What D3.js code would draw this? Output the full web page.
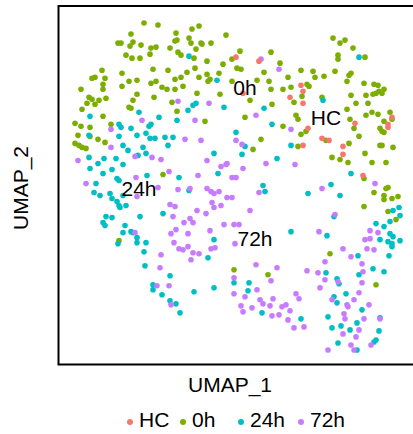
<!DOCTYPE html>
<html>
<head>
<meta charset="utf-8">
<script src="https://cdn.jsdelivr.net/npm/d3@7"></script>
<style>
  html, body { margin: 0; padding: 0; background: #fff; }
  text { font-family: "Liberation Sans", Arial, sans-serif; }
</style>
</head>
<body>
<div id="chart"></div>
<script>
// groups and colours (ggplot default hues)
const groups = ['HC', '0h', '24h', '72h'];
const colors = ['#F8766D', '#7CAE00', '#00BFC4', '#C77CFF'];

// UMAP embedding (arbitrary units)
const hcPts = [
  [177,306],[200,302],[184,270],[242,278],[244,272],[231,266],[244,260],[249,235],
  [333,246],[329,239],[329,236],[296,240],[244,218],[263,225],[270,223],[284,217],
  [284,209],[304,188]
];

const h0Pts = [
  [85,340],[99,338],[72,329],[59,320],[62,320],[74,321],[71,317],[82,318],[92,315],
  [97,316],[117,330],[116,322],[118,323],[111,315],[133,334],[140,337],[130,325],
  [132,320],[142,320],[143,319],[152,320],[137,314],[167,328],[67,308],[73,305],
  [81,305],[91,309],[119,311],[122,308],[135,305],[148,302],[164,299],[173,304],
  [43,293],[63,290],[94,294],[109,293],[128,291],[136,295],[148,289],[160,290],
  [33,285],[36,286],[46,285],[44,279],[70,282],[78,283],[63,277],[92,280],[97,282],
  [103,276],[108,274],[116,284],[122,286],[116,274],[124,277],[140,286],[149,282],
  [151,284],[173,282],[22,274],[44,274],[30,266],[33,264],[40,263],[47,265],[28,260],
  [36,259],[78,269],[74,263],[95,266],[138,270],[161,269],[23,254],[70,256],[72,255],
  [113,261],[118,252],[44,247],[146,242],[16,240],[22,237],[31,236],[52,239],
  [181,312],[212,311],[221,300],[178,295],[182,294],[205,291],[242,293],[254,292],
  [256,286],[265,287],[276,292],[274,325],[281,320],[286,323],[294,315],[279,308],
  [279,304],[306,306],[290,288],[292,290],[288,282],[198,283],[210,282],[212,274],
  [229,286],[224,274],[232,276],[248,279],[250,277],[243,267],[235,261],[263,266],
  [191,263],[213,259],[186,246],[224,237],[237,248],[239,244],[305,280],[315,279],
  [319,278],[307,268],[314,269],[317,270],[320,272],[325,274],[323,270],[292,268],
  [297,260],[309,260],[288,254],[307,248],[313,251],[319,249],[331,251],[333,244],
  [325,242],[291,244],[295,235],[321,235],
  [202,224],[194,214],[242,229],[247,232],[239,217],[267,223],[290,220],[300,227],
  [273,206],[281,204],[289,201],[306,210],[313,201],[323,232],[325,231],[321,218],
  [323,218],[334,216],[327,201],[305,185],[315,171],[327,175],[329,176],[325,168],
  [325,164],[333,165],[339,167],[305,157],[329,152],[337,144],
  [19,228],[31,227],[39,224],[46,221],[16,220],[20,218],[23,216],[27,215],[104,189],
  [60,123],[175,94],[209,89],[271,110],[317,79]
];

const h24Pts = [
  [130,307],[158,283],[80,251],[129,253],[134,258],[137,260],[165,256],[31,247],
  [100,246],[92,239],[90,237],[118,243],[60,239],[62,236],[72,235],
  [300,306],[264,263],[205,255],[213,239],
  [30,228],[60,227],[64,218],[69,213],[78,228],[87,230],[91,225],[96,225],[84,216],
  [106,226],[114,226],[109,218],[30,206],[45,205],[57,205],[79,208],[87,210],[39,200],
  [31,195],[53,194],[64,199],[44,190],[58,185],[60,183],[88,188],[120,186],[155,210],
  [159,190],[37,180],[130,173],[35,171],[41,168],[51,170],[53,165],[58,162],[60,158],
  [61,156],[64,168],[67,158],[104,150],[81,147],[47,147],[53,146],[44,141],[46,138],
  [66,138],[155,124],[64,131],[72,132],[74,131],[59,120],[78,126],[78,121],[87,121],
  [177,231],[186,217],[183,209],[232,218],[218,205],[292,190],[334,153],[340,156],
  [341,148],[331,142],[317,140],[325,137],[331,130],[334,127],[321,124],[329,122],
  [333,120],[341,123],[333,117],[272,179],[281,168],[249,170],[204,178],[206,172],
  [275,147],[232,132],[268,128],
  [85,112],[149,106],[86,98],[111,88],[94,79],[94,74],[103,69],[135,72],[155,76],
  [111,63],[117,60],[121,51],[175,81],
  [190,81],[189,73],[203,51],[242,45],[267,91],[278,85],[280,80],[287,70],[275,67],
  [278,61],[303,54],[299,108],[330,108],[314,95],[300,89],[325,92],[269,47],[273,36],
  [282,38],[291,34],[298,41],[279,21],[298,14],[320,33],[321,46],[315,22],[317,24]
];

const h72Pts = [
  [119,262],[150,260],[83,243],[136,243],[52,234],
  [202,304],[220,294],[197,248],[232,234],
  [52,216],[126,224],[142,223],[177,223],[19,203],[76,207],[93,206],[102,204],
  [110,192],[77,186],[139,188],[148,203],[162,197],[167,199],[168,200],[173,186],
  [27,180],[99,176],[119,174],[131,175],[148,175],[152,172],[155,170],[160,172],
  [78,167],[111,159],[116,157],[168,166],[173,166],[153,161],[155,156],[162,158],
  [138,153],[147,150],[131,145],[125,141],[134,141],[114,147],[117,134],[112,130],
  [129,130],[151,133],[165,139],[175,139],[76,131],[115,121],[120,115],[124,114],
  [129,117],[176,120],
  [183,219],[184,195],[177,186],[207,200],[236,199],[316,180],[263,175],[200,171],
  [191,153],[180,139],[276,149],[260,132],[284,115],[308,115],[315,114],[311,133],
  [319,131],[311,125],[306,124],
  [102,109],[134,111],[140,110],[152,115],[156,116],[132,104],[101,96],[98,78],
  [110,78],[112,59],[175,86],[175,70],
  [197,99],[212,83],[218,96],[198,74],[186,67],[182,58],[184,52],[193,56],[201,64],
  [204,60],[211,58],[214,65],[213,48],[220,49],[223,57],[227,59],[231,53],[229,44],
  [235,36],[245,37],[237,70],[240,65],[248,93],[259,91],[266,102],[266,84],[279,82],
  [261,76],[273,64],[288,59],[289,57],[295,64],[300,71],[310,59],[292,107],[303,100],
  [304,92],[303,81],[285,50],[286,45],[300,34],[305,45],[284,30],[297,27],[292,19],
  [295,14],[269,14],[321,45],[312,19]
];

const pointSets = [hcPts, h0Pts, h24Pts, h72Pts];

// cluster label positions (UMAP units)
const labelNames = ['0h', 'HC', '24h', '72h'];
const labelPos = [[186,276],[267,246],[80,175],[196,125]];

const width = 413, height = 434;
const margin = { top: 6, right: 1, bottom: 70, left: 59 };

const svg = d3.select('#chart').append('svg')
  .attr('width', width)
  .attr('height', height);

const xScale = d3.scaleLinear().domain([0, 353]).range([margin.left, margin.left + 353]);
const yScale = d3.scaleLinear().domain([0, 357]).range([height - margin.bottom, margin.top]);
const color = d3.scaleOrdinal().domain(groups).range(colors);

// points: draw 0h, 24h, 72h, then HC
const drawOrder = [1, 2, 3, 0];
drawOrder.forEach(i => {
  svg.append('g')
    .selectAll('circle')
    .data(pointSets[i])
    .join('circle')
    .attr('cx', d => xScale(d[0]))
    .attr('cy', d => yScale(d[1]))
    .attr('r', 2.8)
    .attr('fill', color(groups[i]));
});

// frame (left, top, bottom; right runs off the page)
const x0 = xScale(0) - 0.5, y0 = yScale(357), y1 = yScale(0) + 0.5;
svg.append('path')
  .attr('d', `M${width + 5},${y0}H${x0}V${y1}H${width + 5}`)
  .attr('fill', 'none')
  .attr('stroke', '#000')
  .attr('stroke-width', 2);

// cluster labels
svg.append('g')
  .selectAll('text')
  .data(labelNames)
  .join('text')
  .attr('x', (d, i) => xScale(labelPos[i][0]))
  .attr('y', (d, i) => yScale(labelPos[i][1]))
  .attr('text-anchor', 'middle')
  .attr('dominant-baseline', 'central')
  .attr('font-size', 21)
  .attr('fill', '#000')
  .text(d => d);

// axis titles
svg.append('text')
  .attr('x', 230)
  .attr('y', 392)
  .attr('text-anchor', 'middle')
  .attr('font-size', 21)
  .text('UMAP_1');

svg.append('text')
  .attr('transform', 'translate(28,188) rotate(-90)')
  .attr('text-anchor', 'middle')
  .attr('font-size', 21)
  .text('UMAP_2');

// legend
const legendX = [130, 183, 241, 301];
const legend = svg.append('g');
groups.forEach((g, i) => {
  legend.append('circle')
    .attr('cx', legendX[i])
    .attr('cy', 422)
    .attr('r', 3)
    .attr('fill', colors[i]);
  legend.append('text')
    .attr('x', legendX[i] + 9)
    .attr('y', 427)
    .attr('font-size', 21)
    .text(g);
});
</script>
</body>
</html>
